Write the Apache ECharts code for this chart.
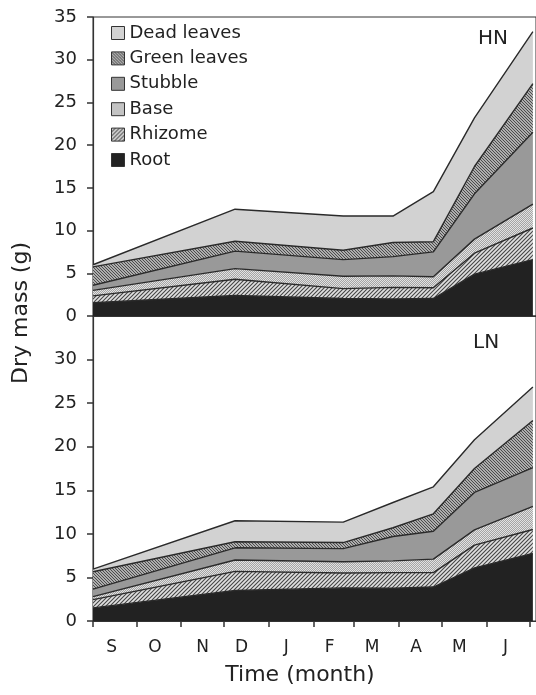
<!DOCTYPE html>
<html>
<head>
<meta charset="utf-8">
<script src="https://cdn.jsdelivr.net/npm/echarts@6.0.0/dist/echarts.min.js"></script>
<style>
html,body{margin:0;padding:0;background:#fff;}
#chart{width:536px;height:695px;}
</style>
</head>
<body>
<div id="chart"></div>
<script>
// ---- data ----
const months = ['S','O','N','D','J','F','M','A','M','J'];
const monthTickDays = [0,30,61,91,122,153,181,212,242,273,303];
const monthLabelDays = [13,43,76,103,134,164,193.5,224,254,286];
const sampleDays = [0,98.5,173.5,208,236,264.5,305];
const yTicks = [0,5,10,15,20,25,30,35];
const layerNames = ['Root','Rhizome','Base','Stubble','Green leaves','Dead leaves'];

// HN (component masses, g)
const hnRoot     = [1.55, 2.4, 2.05, 2.0, 2.05, 4.9, 6.6];
const hnRhizome  = [0.8, 1.9, 1.15, 1.35, 1.25, 2.45, 3.7];
const hnBase     = [0.65, 1.25, 1.45, 1.35, 1.3, 1.65, 2.8];
const hnStubble  = [0.6, 2.05, 1.95, 2.25, 2.9, 5.3, 8.4];
const hnGreen    = [2.15, 1.15, 1.1, 1.65, 1.2, 3.2, 5.7];
const hnDead     = [0.25, 3.75, 4.0, 3.1, 5.85, 5.7, 6.1];

// LN (component masses, g)
const lnRoot     = [1.5, 3.5, 3.8, 3.75, 3.9, 6.1, 7.75];
const lnRhizome  = [0.95, 2.2, 1.7, 1.8, 1.65, 2.6, 2.75];
const lnBase     = [0.35, 1.3, 1.3, 1.35, 1.55, 1.75, 2.65];
const lnStubble  = [0.85, 1.4, 1.5, 2.8, 3.2, 4.3, 4.45];
const lnGreen    = [2.0, 0.7, 0.7, 1.0, 2.0, 2.75, 5.4];
const lnDead     = [0.3, 2.4, 2.35, 2.9, 3.1, 3.3, 3.85];

// ---- patterns ----
function hatch(bg, fg, dir, s, lw){
  const c = document.createElement('canvas'); c.width = s; c.height = s;
  const g = c.getContext('2d');
  g.fillStyle = bg; g.fillRect(0,0,s,s);
  g.strokeStyle = fg; g.lineWidth = lw;
  g.beginPath();
  if (dir === '/') {
    g.moveTo(0,s); g.lineTo(s,0);
    g.moveTo(-1,1); g.lineTo(1,-1);
    g.moveTo(s-1,s+1); g.lineTo(s+1,s-1);
  } else {
    g.moveTo(0,0); g.lineTo(s,s);
    g.moveTo(-1,s-1); g.lineTo(1,s+1);
    g.moveTo(s-1,-1); g.lineTo(s+1,1);
  }
  g.stroke();
  return {image: c, repeat: 'repeat'};
}
function checker(a, b){
  const c = document.createElement('canvas'); c.width = 2; c.height = 2;
  const g = c.getContext('2d');
  g.fillStyle = a; g.fillRect(0,0,2,2);
  g.fillStyle = b; g.fillRect(0,0,1,1); g.fillRect(1,1,1,1);
  return {image: c, repeat: 'repeat'};
}
const fills = {
  'Root': '#222222',
  'Rhizome': hatch('#e0e0e0', '#454545', '/', 4, 1.1),
  'Base': checker('#a4a4a4', '#e2e2e2'),
  'Stubble': '#999999',
  'Green leaves': hatch('#d8d8d8', '#454545', '\\', 3, 1.1),
  'Dead leaves': '#d2d2d2'
};

// data rows are [value, day]; encode maps day to x and value to y
function rows(vals){ return sampleDays.map((d,i)=>[vals[i], d]); }

const hnSets = [hnRoot, hnRhizome, hnBase, hnStubble, hnGreen, hnDead];
const lnSets = [lnRoot, lnRhizome, lnBase, lnStubble, lnGreen, lnDead];

const series = [];
[[hnSets,0,'hn'],[lnSets,1,'ln']].forEach(([sets, gi, st])=>{
  sets.forEach((vals, k)=>{
    series.push({
      name: layerNames[k],
      type: 'line',
      xAxisIndex: gi, yAxisIndex: gi,
      stack: st,
      data: rows(vals),
      encode: {x: 1, y: 0},
      symbol: 'none',
      smooth: false,
      lineStyle: {color: '#2a2a2a', width: 1.4},
      itemStyle: {color: '#333'},
      areaStyle: {color: fills[layerNames[k]], opacity: 1},
      emphasis: {disabled: true},
      silent: true
    });
  });
});

const font = 'DejaVu Sans, Liberation Sans, sans-serif';
const pxPerDay = 1.452;
const gridW = 446;

const chart = echarts.init(document.getElementById('chart'), null, {renderer: 'canvas'});
chart.setOption({
  animation: false,
  backgroundColor: '#fff',
  grid: [
    {left: 93, top: 17, width: gridW, height: 299, show: true, borderColor: '#333', borderWidth: 1, backgroundColor: 'transparent'},
    {left: 93, top: 316, width: gridW, height: 305, show: true, borderColor: '#333', borderWidth: 1, backgroundColor: 'transparent'}
  ],
  xAxis: [
    {gridIndex: 0, type: 'value', min: 0, max: gridW / pxPerDay,
     axisLine: {show: true, lineStyle: {color: '#333', width: 1.2}},
     axisTick: {show: false}, axisLabel: {show: false}, splitLine: {show: false}},
    {gridIndex: 1, type: 'value', min: 0, max: gridW / pxPerDay,
     axisLine: {show: true, lineStyle: {color: '#333', width: 1.2}},
     axisTick: {show: true, inside: false, length: 6, lineStyle: {color: '#333', width: 1.5}, customValues: monthTickDays},
     axisLabel: {show: true, customValues: monthLabelDays, margin: 18, fontSize: 17, color: '#222', fontFamily: font,
       formatter: function(v){ const i = monthLabelDays.indexOf(v); return i >= 0 ? months[i] : ''; }},
     splitLine: {show: false}}
  ],
  yAxis: [
    {gridIndex: 0, type: 'value', min: 0, max: 35, interval: 5,
     axisLine: {show: true, lineStyle: {color: '#333', width: 1.2}},
     axisTick: {show: true, length: 6, lineStyle: {color: '#333', width: 1.5}},
     axisLabel: {fontSize: 18, color: '#222', fontFamily: font, margin: 16,
       formatter: function(v){ return yTicks.indexOf(v) >= 0 ? String(v) : ''; }},
     splitLine: {show: false}},
    {gridIndex: 1, type: 'value', min: 0, max: 35, interval: 5,
     axisLine: {show: true, lineStyle: {color: '#333', width: 1.2}},
     axisTick: {show: true, length: 6, lineStyle: {color: '#333', width: 1.5}},
     axisLabel: {fontSize: 18, color: '#222', fontFamily: font, margin: 16, showMaxLabel: false,
       formatter: function(v){ return (v < 35 && yTicks.indexOf(v) >= 0) ? String(v) : ''; }},
     splitLine: {show: false}}
  ],
  legend: {
    orient: 'vertical', left: 106, top: 19,
    itemWidth: 13, itemHeight: 13, itemGap: 7.4,
    selectedMode: false,
    textStyle: {fontSize: 18, color: '#222', fontFamily: font},
    data: layerNames.slice().reverse().map(n => ({
      name: n, icon: 'rect',
      itemStyle: {color: fills[n], borderColor: '#333', borderWidth: 1}
    }))
  },
  graphic: [
    {type: 'text', left: 478, top: 29, style: {text: 'HN', fontSize: 20, fill: '#222', fontFamily: font}},
    {type: 'text', left: 473, top: 333, style: {text: 'LN', fontSize: 20, fill: '#222', fontFamily: font}},
    {type: 'text', x: 21, y: 313, rotation: Math.PI / 2,
     style: {text: 'Dry mass (g)', fontSize: 22, fill: '#222', fontFamily: font, align: 'center', verticalAlign: 'middle'}},
    {type: 'text', x: 300, y: 675,
     style: {text: 'Time (month)', fontSize: 22, fill: '#222', fontFamily: font, align: 'center', verticalAlign: 'middle'}}
  ],
  series: series
});
</script>
</body>
</html>
